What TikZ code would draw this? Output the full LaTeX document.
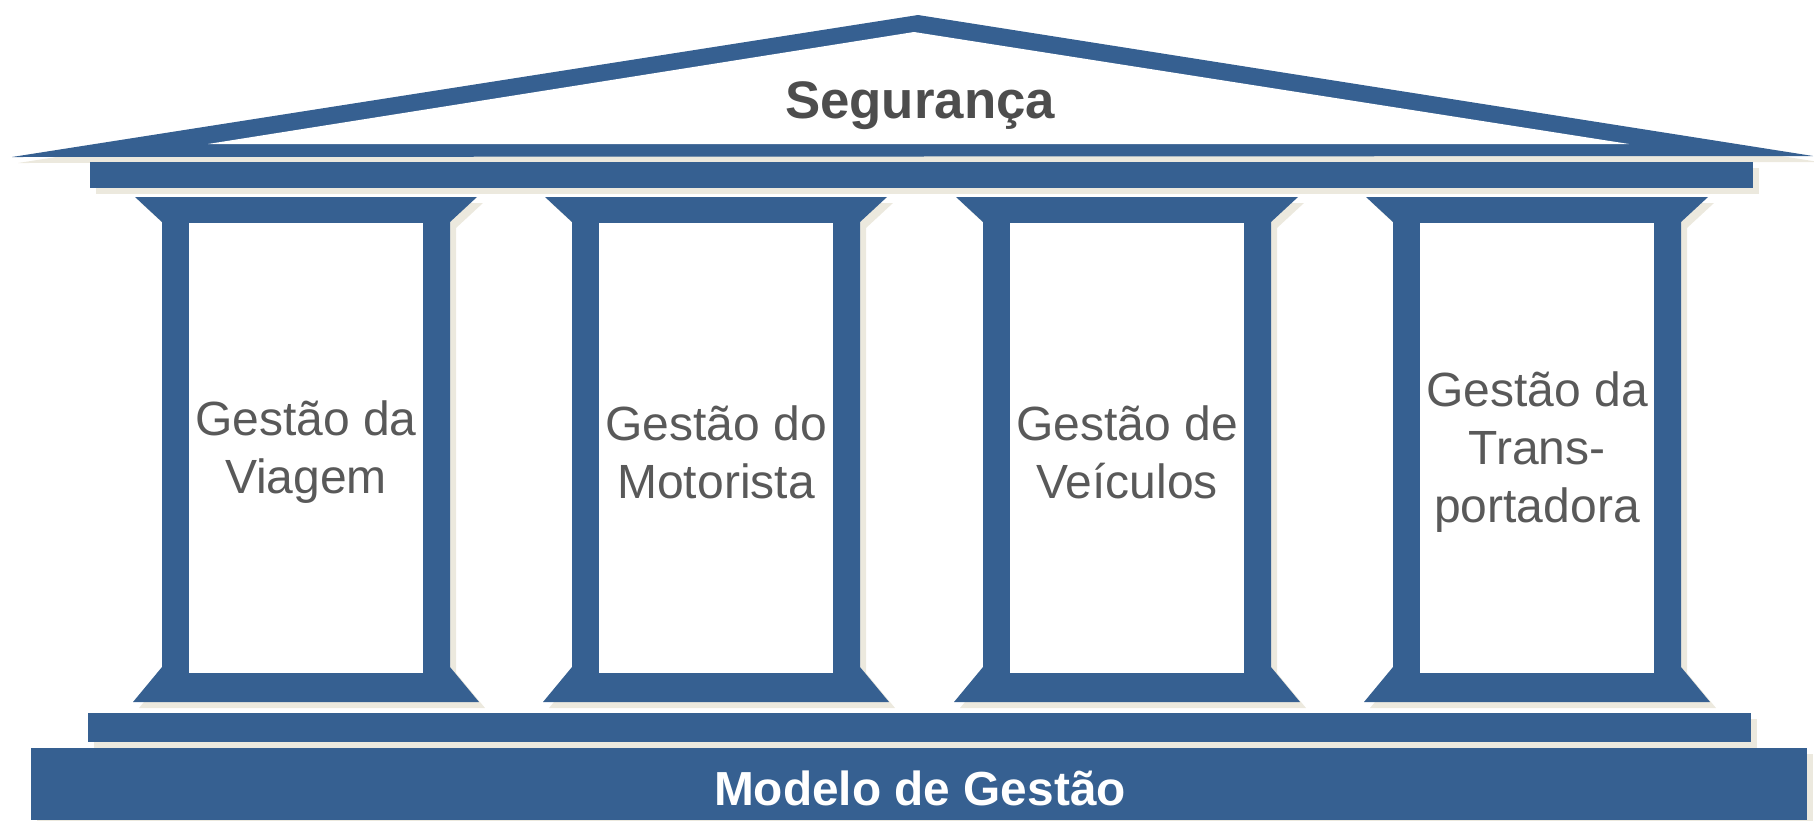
\documentclass[tikz,border=0pt]{standalone}
\usepackage{fontspec}
\setmainfont{Liberation Sans}
\usetikzlibrary{shadows}
\definecolor{templeblue}{RGB}{54,96,145}
\definecolor{shadebeige}{RGB}{236,233,222}
\definecolor{pillargray}{RGB}{89,89,89}
\definecolor{roofgray}{RGB}{77,77,77}
\tikzset{
  bluepart/.style={fill=templeblue,
    drop shadow={shadow xshift=3pt,shadow yshift=-3pt,fill=shadebeige,opacity=1}},
  pillartext/.style={text=pillargray,align=center,font=\fontsize{24}{29}\selectfont},
}
% one pillar, centred at x = #1
\newcommand{\pillar}[1]{%
  \fill[bluepart] (#1-171,197) -- (#1+171,197) -- (#1+144,222) -- (#1+144,667)
    -- (#1+173,702) -- (#1-173,702) -- (#1-144,667) -- (#1-144,222) -- cycle;
  \fill[white] (#1-117,223) rectangle (#1+117,673);
}

\begin{document}
\begin{tikzpicture}[x=0.5pt,y=-0.5pt]
    \useasboundingbox (0,0) rectangle (1814,820);

    % roof
    \fill[bluepart] (12,157) -- (918,15) -- (1813,156) -- cycle;
    \fill[white] (208,144) -- (914,32) -- (1629,144) -- cycle;
    \node[text=roofgray,font=\bfseries\fontsize{26.4}{30}\selectfont,anchor=base] (seguranca) at (920,118) {Segurança};

    % beams
    \fill[bluepart] (90,162) rectangle (1753,188);
    \pillar{306}
    \pillar{716}
    \pillar{1127}
    \pillar{1537}
    \fill[bluepart] (88,713) rectangle (1751,742);
    \fill[bluepart] (31,748) rectangle (1807,820);

    \node[pillartext] (viagem) at (306,452) {Gestão da\\Viagem};
    \node[pillartext] (motorista) at (716,452) {Gestão do\\Motorista};
    \node[pillartext] (veiculos) at (1127,452) {Gestão de\\Veículos};
    \node[pillartext] (transportadora) at (1537,452) {Gestão da\\Trans-\\portadora};

    \node[text=white,font=\bfseries\fontsize{23.9}{28}\selectfont,anchor=base] (modelo) at (920,805) {Modelo de Gestão};
\end{tikzpicture}
\end{document}
